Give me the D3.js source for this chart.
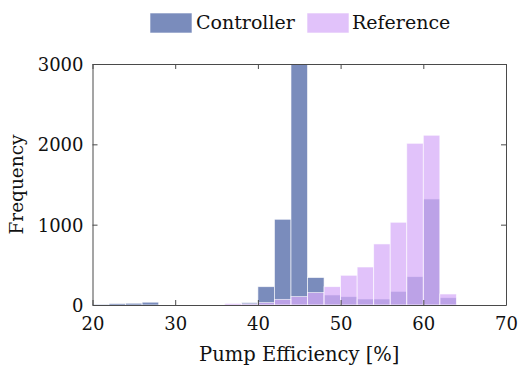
<!DOCTYPE html>
<html>
<head>
<meta charset="utf-8">
<script src="https://cdn.jsdelivr.net/npm/d3@7"></script>
<style>
  body { margin: 0; background: #fff; }
  svg { display: block; }
  svg text { font-family: "DejaVu Serif", "Liberation Serif", "Times New Roman", serif; fill: #111; }
</style>
</head>
<body>
<svg id="app" width="518" height="367"></svg>
<script>
// histogram bins (2 % wide), left edges
const binStarts = [20, 22, 24, 26, 28, 30, 32, 34, 36, 38, 40, 42, 44, 46, 48, 50, 52, 54, 56, 58, 60, 62];
const controllerCounts = [10, 18, 22, 35, 0, 0, 0, 0, 5, 30, 228, 1067, 3000, 342, 125, 104, 75, 75, 170, 353, 1320, 91];
const referenceCounts = [0, 0, 0, 0, 0, 0, 0, 0, 20, 15, 30, 70, 105, 155, 228, 370, 473, 760, 1030, 2013, 2113, 137];
const binWidth = 2;
const xTicks = [20, 30, 40, 50, 60, 70];
const yTicks = [0, 1000, 2000, 3000];
const seriesNames = ["Controller", "Reference"];

const svg = d3.select("#app");
const margin = { left: 92.5, right: 12, top: 64, bottom: 62 };
const W = 518, H = 367;
const fontStack = "'DejaVu Serif', 'Liberation Serif', 'Times New Roman', serif";

const x = d3.scaleLinear().domain([20, 70]).range([margin.left, W - margin.right]);
const y = d3.scaleLinear().domain([0, 3000]).range([H - margin.bottom, margin.top]);

svg.append("defs").append("clipPath").attr("id", "plotClip")
  .append("rect")
  .attr("x", x(20)).attr("y", y(3000))
  .attr("width", x(70) - x(20)).attr("height", y(0) - y(3000));

const plot = svg.append("g").attr("clip-path", "url(#plotClip)");

const colors = { Controller: "#7a8cbc", Reference: "#d6abf8" };

function drawBars(counts, name, opacity) {
  const rows = binStarts.map((s, i) => ({ s, v: counts[i] })).filter(d => d.v > 0);
  plot.append("g").attr("class", name)
    .selectAll("rect")
    .data(rows)
    .enter()
    .append("rect")
    .attr("x", d => x(d.s))
    .attr("y", d => y(d.v))
    .attr("width", d => x(d.s + binWidth) - x(d.s))
    .attr("height", d => y(0) - y(d.v))
    .attr("fill", colors[name])
    .attr("fill-opacity", opacity)
    .attr("stroke", "#ffffff")
    .attr("stroke-opacity", 0.75)
    .attr("stroke-width", 0.8);
}
drawBars(controllerCounts, "Controller", 1);
drawBars(referenceCounts, "Reference", 0.72);

// axes, inward ticks, boxed
const axisColor = "#4a4a4a";
const xAxis = svg.append("g")
  .attr("transform", `translate(0,${y(0)})`)
  .call(d3.axisBottom(x).tickValues(xTicks).tickSizeInner(-5).tickSizeOuter(0).tickPadding(12));
const yAxis = svg.append("g")
  .attr("transform", `translate(${x(20)},0)`)
  .call(d3.axisLeft(y).tickValues(yTicks).tickFormat(d3.format("d")).tickSizeInner(-5).tickSizeOuter(0).tickPadding(9));
svg.append("g")
  .attr("transform", `translate(0,${y(3000)})`)
  .call(d3.axisTop(x).tickValues(xTicks).tickSizeInner(-5).tickSizeOuter(0).tickFormat(""));
svg.append("g")
  .attr("transform", `translate(${x(70)},0)`)
  .call(d3.axisRight(y).tickValues(yTicks).tickSizeInner(-5).tickSizeOuter(0).tickFormat(""));

svg.selectAll(".domain").attr("stroke", axisColor).attr("stroke-width", 1);
svg.selectAll(".tick line").attr("stroke", axisColor);
svg.selectAll("g").attr("font-family", fontStack);
svg.selectAll(".tick text")
  .style("font-family", fontStack)
  .attr("font-size", 18)
  .attr("fill", "#111");
yAxis.selectAll(".tick text").attr("dy", "0.36em");

// axis titles
svg.append("text")
  .attr("x", (x(20) + x(70)) / 2)
  .attr("y", 361)
  .attr("text-anchor", "middle")
  .attr("font-size", 19.5)
  .style("font-family", fontStack)
  .text("Pump Efficiency [%]");
svg.append("text")
  .attr("transform", `translate(23,${(y(0) + y(3000)) / 2}) rotate(-90)`)
  .attr("text-anchor", "middle")
  .attr("font-size", 18.5)
  .style("font-family", fontStack)
  .text("Frequency");

// legend
const legendItems = [
  { name: seriesNames[0], sx: 150, tx: 196 },
  { name: seriesNames[1], sx: 307, tx: 352 }
];
const legend = svg.append("g");
legendItems.forEach(it => {
  legend.append("rect")
    .attr("x", it.sx).attr("y", 13)
    .attr("width", 42).attr("height", 20)
    .attr("fill", colors[it.name])
    .attr("fill-opacity", it.name === "Reference" ? 0.72 : 1)
    .attr("stroke", "#ffffff").attr("stroke-opacity", 0.75).attr("stroke-width", 0.8);
  legend.append("text")
    .attr("x", it.tx).attr("y", 29)
    .attr("font-size", 19)
    .style("font-family", fontStack)
    .text(it.name);
});
</script>
</body>
</html>
